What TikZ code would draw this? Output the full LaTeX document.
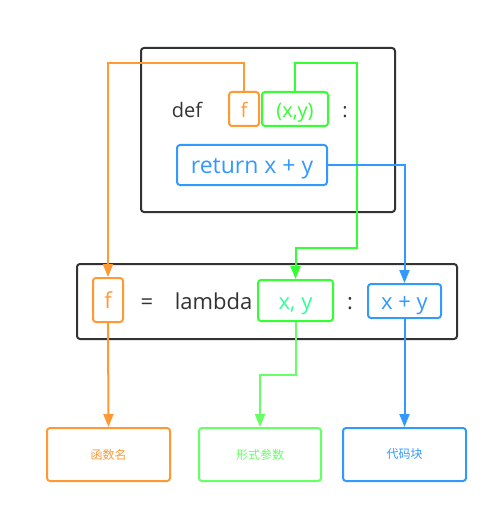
\documentclass[tikz,border=0pt]{standalone}
\usepackage{fontspec}
\setmainfont{Open Sans}
\newfontfamily\cjk{Noto Sans CJK SC}
\usetikzlibrary{arrows.meta}
\definecolor{cor}{HTML}{FF9933}
\definecolor{cgr}{HTML}{33FF33}
\definecolor{cgt}{HTML}{33FF99}
\definecolor{cgl}{HTML}{66FF66}
\definecolor{cbl}{HTML}{3399FF}
\definecolor{cdk}{HTML}{333333}
\begin{document}
\begin{tikzpicture}[x=1pt,y=-1pt,
  box/.style={draw,line width=2pt,rounded corners=3pt,inner sep=0pt},
  boxt/.style={box,text height=19pt,text depth=2pt},
  codea/.style={font=\fontsize{20}{24}\selectfont},
  codeb/.style={font=\fontsize{23}{27}\selectfont},
  codec/.style={font=\fontsize{22}{26}\selectfont},
  plain/.style={anchor=base,inner sep=0pt,text=cdk},
  lab/.style={font=\cjk\fontsize{12}{14}\selectfont},
  conn/.style={line width=2pt},
  arr/.style={conn,-{Triangle[width=10pt,length=13pt]}},
]
\useasboundingbox (0,0) rectangle (498,513);
% top def box
\node[box,draw=cdk,minimum width=254pt,minimum height=164pt] (top) at (268,130) {};
\node[plain,codea] (def) at (187,118) {def};
\node[boxt,draw=cor,codea,text=cor,minimum width=30pt,minimum height=34pt] (f1) at (244,109) {f};
\node[boxt,draw=cgr,codea,text=cgr,minimum width=66pt,minimum height=34pt] (xy1) at (295,109) {(x,y)};
\node[plain,codea] (c1) at (345,118) {:};
\node[boxt,draw=cbl,codeb,text=cbl,minimum width=150pt,minimum height=40pt] (ret) at (252,165) {return x + y};
% lambda box
\node[box,draw=cdk,minimum width=380pt,minimum height=75pt] (lam) at (267,301.5) {};
\node[boxt,draw=cor,codec,text=cor,minimum width=30pt,minimum height=44pt] (f2) at (108,300) {f};
\node[plain,codec] (eq) at (147,309) {=};
\node[plain,codec] (lambda) at (213.5,309) {lambda};
\node[boxt,draw=cgr,codec,text=cgt,minimum width=75pt,minimum height=41pt] (xy2) at (295.5,300.5) {x, y};
\node[plain,codec] (c2) at (350,309) {:};
\node[boxt,draw=cbl,codec,text=cbl,minimum width=73pt,minimum height=34pt] (xpy) at (404.5,301) {x + y};
% bottom labels
\node[box,draw=cor,lab,text=cor,minimum width=123pt,minimum height=53pt] (b1) at (108.5,454.5) {函数名};
\node[box,draw=cgl,lab,text=cgl,minimum width=122pt,minimum height=53pt] (b2) at (260,454.5) {形式参数};
\node[box,draw=cbl,lab,text=cbl,minimum width=123pt,minimum height=53pt] (b3) at (404.5,454.5) {代码块};
% connectors
\coordinate (o1) at (244,63);
\coordinate (g1) at (357,63);
\coordinate (g2) at (357,248);
\coordinate (g3) at (296,375);
\draw[arr,cor] (f1.north) -- (f1.north |- o1) -| (f2.north);
\draw[arr,cgr] (xy1.north) |- (g1) -- (g2) -| (xy2.north);
\draw[arr,cbl] (ret.east) -| (xpy.north);
\draw[arr,cor] (f2.south) -- (b1.north);
\draw[arr,cgl] (xy2.south) -- (xy2.south |- g3) -| (b2.north);
\draw[arr,cbl] (xpy.south) -- (b3.north);
\end{tikzpicture}
\end{document}
